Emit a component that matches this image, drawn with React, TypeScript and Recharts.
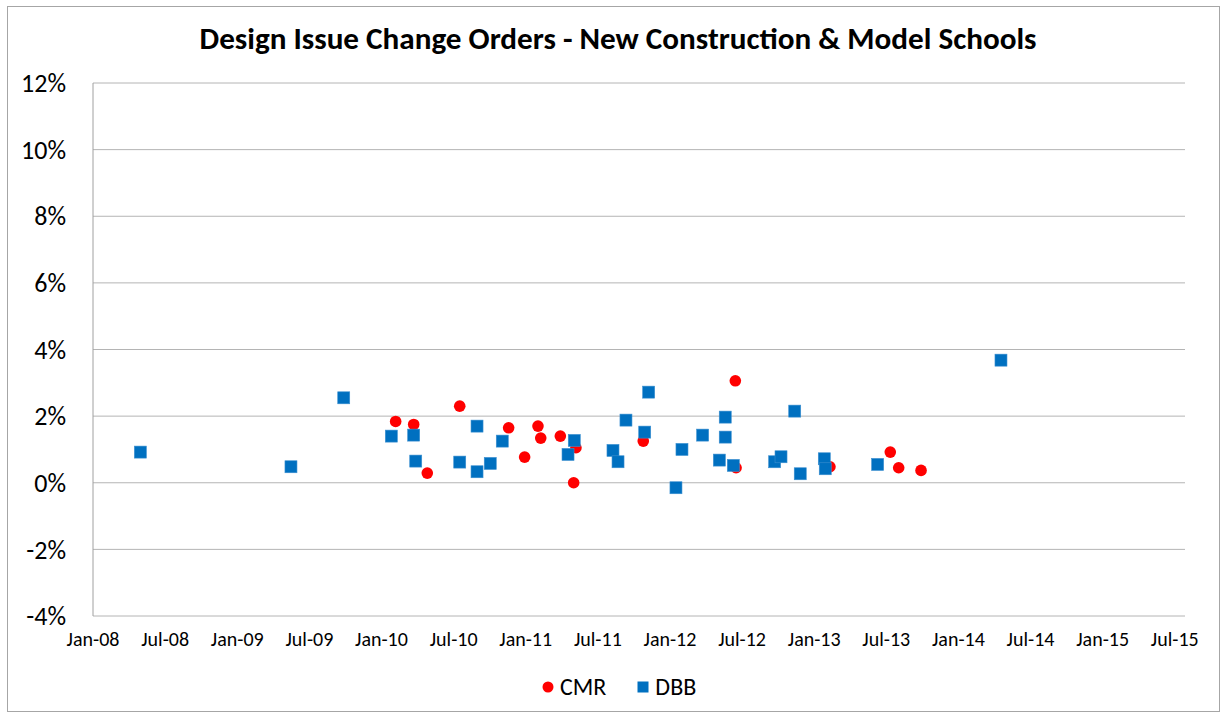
import React from "react";
import {
  ScatterChart,
  Scatter,
  XAxis,
  YAxis,
  CartesianGrid,
  Legend,
} from "recharts";

// x = months since Jan-2008, y = percent
const cmrMonths = [25.18, 26.68, 27.81, 30.51, 34.58, 35.91, 37.02, 37.25, 38.88, 40.18, 39.99, 45.78, 53.44, 53.5, 61.31, 66.33, 67.03, 68.89];
const cmrValues = [1.84, 1.75, 0.29, 2.3, 1.65, 0.77, 1.7, 1.34, 1.4, 1.05, 0.0, 1.25, 3.06, 0.45, 0.48, 0.92, 0.45, 0.37];

const dbbMonths = [3.94, 16.47, 20.86, 24.82, 26.68, 26.85, 30.51, 31.95, 31.95, 33.05, 34.05, 39.52, 40.04, 43.26, 43.68, 44.34, 45.9, 46.23, 48.5, 49.0, 50.72, 52.11, 52.6, 52.6, 53.27, 56.71, 57.24, 58.38, 58.84, 60.84, 60.92, 65.28, 75.54];
const dbbValues = [0.92, 0.48, 2.55, 1.4, 1.43, 0.65, 0.62, 1.7, 0.33, 0.58, 1.25, 0.85, 1.27, 0.97, 0.63, 1.88, 1.52, 2.72, -0.15, 1.0, 1.43, 0.68, 1.97, 1.37, 0.52, 0.63, 0.78, 2.15, 0.27, 0.72, 0.42, 0.55, 3.68];

const xTicks = [0, 6, 12, 18, 24, 30, 36, 42, 48, 54, 60, 66, 72, 78, 84, 90];
const xTickLabels = ["Jan-08", "Jul-08", "Jan-09", "Jul-09", "Jan-10", "Jul-10", "Jan-11", "Jul-11", "Jan-12", "Jul-12", "Jan-13", "Jul-13", "Jan-14", "Jul-14", "Jan-15", "Jul-15"];
const yTicks = [-4, -2, 0, 2, 4, 6, 8, 10, 12];

const seriesNames = ["CMR", "DBB"];
const title = "Design Issue Change Orders - New Construction & Model Schools";

const RED = "#FF0000";
const BLUE = "#0070C0";
const FONT = "Carlito, Calibri, 'Liberation Sans', Arial, sans-serif";

const cmrData = cmrMonths.map((m, i) => ({ m, v: cmrValues[i] }));
const dbbData = dbbMonths.map((m, i) => ({ m, v: dbbValues[i] }));

const CircleShape = (props: any) => {
  const { cx, cy } = props;
  if (cx == null || cy == null) return null;
  return <circle cx={cx} cy={cy} r={5.8} fill={RED} />;
};

const SquareShape = (props: any) => {
  const { cx, cy } = props;
  if (cx == null || cy == null) return null;
  return <rect x={cx - 6} y={cy - 6} width={12} height={12} fill={BLUE} stroke="#3A8FD0" strokeWidth={0.6} />;
};

const LegendContent = () => (
  <div
    style={{
      position: "absolute",
      left: 542,
      top: 0,
      display: "flex",
      alignItems: "center",
      fontFamily: FONT,
      fontSize: 24,
      lineHeight: "28px",
      color: "#000",
      whiteSpace: "nowrap",
    }}
  >
    <svg width={12} height={12} style={{ marginRight: 6 }}>
      <circle cx={6} cy={6} r={5.5} fill={RED} />
    </svg>
    <span>{seriesNames[0]}</span>
    <svg width={12} height={12} style={{ marginLeft: 31, marginRight: 6 }}>
      <rect x={0.5} y={0.5} width={11} height={11} fill={BLUE} />
    </svg>
    <span>{seriesNames[1]}</span>
  </div>
);

export default function App() {
  return (
    <div style={{ position: "absolute", left: 0, top: 0, width: 1223, height: 717, background: "#fff" }}>
      <div
        style={{
          position: "absolute",
          left: 7,
          top: 6,
          width: 1213,
          height: 706,
          border: "1px solid #A6A6A6",
          boxSizing: "border-box",
        }}
      />
      <svg width={1223} height={70} style={{ position: "absolute", left: 0, top: 0 }}>
        <text
          x={618}
          y={49}
          textAnchor="middle"
          fontFamily={FONT}
          fontWeight="bold"
          fontSize={30}
          textLength={837}
          lengthAdjust="spacingAndGlyphs"
          fill="#000"
        >
          {title}
        </text>
      </svg>
      <div style={{ position: "absolute", left: 0, top: 0 }}>
        <ScatterChart width={1223} height={717} margin={{ top: 83, right: 38, bottom: 71, left: 0 }}>
          <CartesianGrid horizontal vertical={false} stroke="#B4B4B4" strokeWidth={1} />
          <XAxis
            type="number"
            dataKey="m"
            domain={[0, 90.85]}
            ticks={xTicks}
            interval={0}
            allowDataOverflow
            tickFormatter={(v: number) => xTickLabels[xTicks.indexOf(v)] ?? ""}
            axisLine={false}
            tickLine={false}
            tickSize={0}
            tickMargin={16}
            height={30}
            tick={{ fontFamily: FONT, fontSize: 20, fill: "#000" }}
          />
          <YAxis
            type="number"
            dataKey="v"
            domain={[-4, 12]}
            ticks={yTicks}
            interval={0}
            allowDataOverflow
            tickFormatter={(v: number) => `${v}%`}
            axisLine={{ stroke: "#A0A0A0", strokeWidth: 1 }}
            tickLine={false}
            tickSize={0}
            tickMargin={27}
            width={93}
            tick={{ fontFamily: FONT, fontSize: 26, fill: "#000" }}
          />
          <Legend
            layout="horizontal"
            verticalAlign="middle"
            align="center"
            content={LegendContent}
            wrapperStyle={{ top: 673, left: 0, width: 1223, height: 30 }}
          />
          <Scatter name={seriesNames[0]} data={cmrData} fill={RED} shape={CircleShape} isAnimationActive={false} />
          <Scatter name={seriesNames[1]} data={dbbData} fill={BLUE} shape={SquareShape} isAnimationActive={false} />
        </ScatterChart>
      </div>
    </div>
  );
}
